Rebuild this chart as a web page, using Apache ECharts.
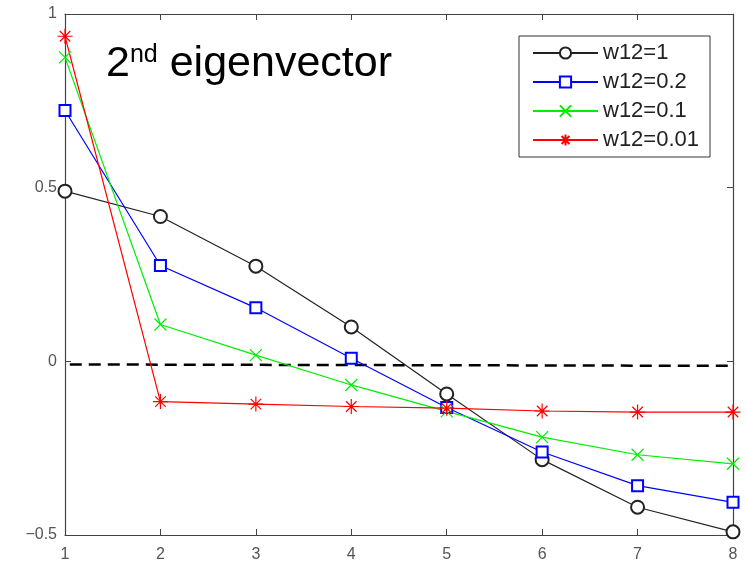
<!DOCTYPE html>
<html>
<head>
<meta charset="utf-8">
<script src="https://cdn.jsdelivr.net/npm/echarts@6/dist/echarts.min.js"></script>
<style>
  html, body { margin: 0; padding: 0; background: #fff; }
  #chart { width: 746px; height: 563px; }
</style>
</head>
<body>
<div id="chart"></div>
<script>
// node index 1..8
const xs = [1, 2, 3, 4, 5, 6, 7, 8];
const w1 = [0.490, 0.417, 0.274, 0.099, -0.094, -0.283, -0.420, -0.491];
const w02 = [0.722, 0.276, 0.154, 0.009, -0.133, -0.261, -0.358, -0.406];
const w01 = [0.875, 0.106, 0.018, -0.068, -0.144, -0.218, -0.269, -0.295];
const w001 = [0.936, -0.116, -0.123, -0.130, -0.135, -0.143, -0.146, -0.146];
const names = ['w12=1', 'w12=0.2', 'w12=0.1', 'w12=0.01'];
// hand drawn zero line
const zeroX = [1.05, 8];
const zeroY = [-0.009, -0.013];

const pair = (a, b) => a.map((v, i) => [v, b[i]]);

const chart = echarts.init(document.getElementById('chart'));

const font = '"Liberation Sans", Arial, sans-serif';
const axisCol = '#444';

function mkSeries(name, ys, color, symbol, size) {
    return {
        name: name,
        type: 'line',
        data: pair(xs, ys),
        symbol: symbol,
        symbolSize: size,
        clip: false,
        lineStyle: { color: color, width: 1.2 },
        itemStyle: { color: color, borderColor: color, borderWidth: 1.2 }
    };
}

const option = {
    animation: false,
    backgroundColor: '#fff',
    textStyle: { fontFamily: font },
    grid: { left: 65, right: 13, top: 14, bottom: 26, containLabel: false },
    legend: {
        data: names,
        orient: 'vertical',
        left: 519,
        top: 36,
        itemWidth: 65,
        itemHeight: 14,
        itemGap: 7,
        padding: [6, 11, 6, 13],
        borderColor: '#333',
        borderWidth: 1,
        textStyle: { fontSize: 22, lineHeight: 22, color: '#222', fontFamily: font }
    },
    xAxis: [{
        type: 'value', min: 1, max: 8, interval: 1,
        axisLine: { onZero: false, lineStyle: { color: axisCol, width: 1.2 } },
        axisTick: { inside: true, length: 6, lineStyle: { color: axisCol } },
        axisLabel: { fontSize: 16, color: '#555', margin: 12 },
        splitLine: { show: false }
    }, {
        type: 'value', min: 1, max: 8, interval: 1, position: 'top',
        axisLine: { show: true, onZero: false, lineStyle: { color: axisCol, width: 1.2 } },
        axisTick: { inside: true, length: 6, lineStyle: { color: axisCol } },
        axisLabel: { show: false },
        splitLine: { show: false }
    }],
    yAxis: [{
        type: 'value', min: -0.5, max: 1, interval: 0.5,
        axisLine: { show: true, onZero: false, lineStyle: { color: axisCol, width: 1.2 } },
        axisTick: { show: true, inside: true, length: 6, lineStyle: { color: axisCol } },
        axisLabel: {
            fontSize: 16, color: '#555', margin: 8,
            formatter: v => v < 0 ? '\u2212' + Math.abs(v) : String(v)
        },
        splitLine: { show: false }
    }, {
        type: 'value', min: -0.5, max: 1, interval: 0.5, position: 'right',
        axisLine: { show: true, onZero: false, lineStyle: { color: axisCol, width: 1.2 } },
        axisTick: { show: true, inside: true, length: 6, lineStyle: { color: axisCol } },
        axisLabel: { show: false },
        splitLine: { show: false }
    }],
    graphic: [{
        type: 'text',
        left: 106,
        top: 43,
        style: {
            text: '{a|2}{b|nd}{a| eigenvector}',
            rich: {
                a: { fontSize: 43, fontFamily: font, fill: '#000' },
                b: { fontSize: 25, fontFamily: font, fill: '#000', verticalAlign: 'top' }
            }
        }
    }],
    series: [
        {
            type: 'line',
            data: pair(zeroX, zeroY),
            symbol: 'none',
            silent: true,
            lineStyle: { color: '#000', width: 2.5, type: [12, 7] }
        },
        mkSeries(names[0], w1, '#222', 'emptyCircle', 13),
        mkSeries(names[1], w02, '#0000ff', 'emptyRect', 11),
        mkSeries(names[2], w01, '#00ee00', 'path://M0,0L10,10M10,0L0,10', 12),
        mkSeries(names[3], w001, '#ff0000', 'path://M5,0L5,10M0,5L10,5M1.5,1.5L8.5,8.5M8.5,1.5L1.5,8.5', 15)
    ]
};

chart.setOption(option);
</script>
</body>
</html>
